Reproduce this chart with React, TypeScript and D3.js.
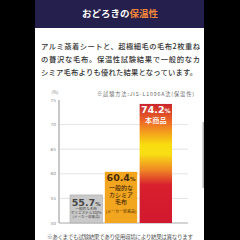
import React from "react";
import * as d3 from "d3";

const categories = ["general", "cashmere", "product"];
const values = [55.7, 60.4, 74.2];
const valueLabels = ["55.7", "60.4", "74.2"];
const yTicks = [50, 55, 60, 65, 70, 75];
const paragraph = [
  "アルミ蒸着シートと、超極細毛の毛布2枚重ね",
  "の贅沢な毛布。保温性試験結果で一般的なカ",
  "シミア毛布よりも優れた結果となっています。",
];
const bar1Sub = ["一般的な毛布", "ポリエステル100%", "(メーカー従来品)"];
const bar2Sub = ["一般的な", "カシミア", "毛布"];
const bar2Note = "(メーカー従来品)";
const bar3Sub = "本商品";
const titleA = "おどろきの";
const titleB = "保温性";
const methodNote = "※試験方法:JIS-L1096A法(保温性)";
const footNote = "※あくまでも試験結果であり使用環境により結果は異なります";

const JP = "'Noto Sans CJK JP', 'Noto Sans', sans-serif";

export default function App() {
  const W = 240, H = 240;
  const y = d3.scaleLinear().domain([50, 75]).range([223, 100]);
  const x = d3.scaleBand<string>().domain(categories).range([70, 172]).paddingInner(0.07);
  const bw = x.bandwidth();
  const cx = (i: number) => (x(categories[i]) as number) + bw / 2;

  return (
    <svg width={W} height={H} style={{ position: "absolute", left: 0, top: 0, display: "block" }}>
      <defs>
        <linearGradient id="hot" x1="0" y1="0" x2="0" y2="1">
          <stop offset="0" stopColor="#c9262e" />
          <stop offset="0.15" stopColor="#ee6a26" />
          <stop offset="0.34" stopColor="#f8dc10" />
          <stop offset="0.42" stopColor="#f8e014" />
          <stop offset="0.55" stopColor="#f08a24" />
          <stop offset="0.68" stopColor="#d8202e" />
          <stop offset="1" stopColor="#d2182e" />
        </linearGradient>
      </defs>
      <rect x={0} y={0} width={W} height={H} fill="#000" />
      <rect x={35} y={0} width={169} height={H} fill="#fff" />
      <rect x={35} y={0} width={169} height={28} fill="#251f4d" />
      <text x={120} y={17} textAnchor="middle" fontFamily={JP} fontSize={9.5} fontWeight={700} fill="#fff">
        <tspan>{titleA}</tspan>
        <tspan fill="#f0863c">{titleB}</tspan>
      </text>
      {paragraph.map((t, i) => (
        <text key={i} x={41} y={49 + i * 13} fontFamily={JP} fontSize={7.3} fontWeight={500} fill="#333"
          textLength={i === 2 ? 156 : 159} lengthAdjust="spacing">{t}</text>
      ))}
      <text x={97} y={95.5} fontFamily={JP} fontSize={5.2} fill="#666" textLength={97} lengthAdjust="spacing">{methodNote}</text>
      <text x={55} y={93.5} textAnchor="middle" fontFamily={JP} fontSize={4.5} fill="#888">(%)</text>
      {yTicks.map((t) => (
        <g key={t}>
          {t > 50 && t < 75 && (
            <line x1={60} x2={188} y1={y(t)} y2={y(t)} stroke="#dcdcdc" strokeWidth={0.8} />
          )}
          <text x={56} y={y(t) + 1.6} textAnchor="end" fontFamily="DejaVu Sans" fontSize={4.3} fill="#888">{t}</text>
        </g>
      ))}
      <line x1={59} x2={59} y1={y(75)} y2={y(50)} stroke="#aaa" strokeWidth={1.3} />
      <line x1={59} x2={188} y1={y(50)} y2={y(50)} stroke="#aaa" strokeWidth={1} />
      {values.map((v, i) => (
        <rect key={i} x={x(categories[i])} y={y(v)} width={bw} height={y(50) - y(v)}
          fill={i === 0 ? "#c9c9c9" : i === 1 ? "#f2a51e" : "url(#hot)"}
          stroke={i === 0 ? "#a8a8a8" : "none"} strokeWidth={0.6} />
      ))}
      {/* bar 1 labels */}
      <text x={cx(0)} y={y(values[0]) + 11} textAnchor="middle" fontFamily="DejaVu Sans" fontWeight={700} fontSize={9.5} fill="#444">
        {valueLabels[0]}<tspan fontSize={5.5}>%</tspan>
      </text>
      {bar1Sub.map((t, i) => (
        <text key={i} x={cx(0)} y={y(values[0]) + 15.5 + i * 3.8} textAnchor="middle" fontFamily={JP} fontSize={3.6} fill="#444">{t}</text>
      ))}
      {/* bar 2 labels */}
      <text x={cx(1)} y={y(values[1]) + 9.5} textAnchor="middle" fontFamily="DejaVu Sans" fontWeight={700} fontSize={9.5} fill="#4a2c08">
        {valueLabels[1]}<tspan fontSize={5.5}>%</tspan>
      </text>
      {bar2Sub.map((t, i) => (
        <text key={i} x={cx(1)} y={y(values[1]) + 18 + i * 7} textAnchor="middle" fontFamily={JP} fontSize={6} fontWeight={500} fill="#4a2c08">{t}</text>
      ))}
      <text x={cx(1)} y={y(values[1]) + 41} textAnchor="middle" fontFamily={JP} fontSize={4} fill="#4a2c08">{bar2Note}</text>
      {/* bar 3 labels */}
      <text x={cx(2)} y={y(values[2]) + 9.5} textAnchor="middle" fontFamily="DejaVu Sans" fontWeight={700} fontSize={9.5} fill="#fff">
        {valueLabels[2]}<tspan fontSize={6}>%</tspan>
      </text>
      <text x={cx(2)} y={y(values[2]) + 19.5} textAnchor="middle" fontFamily={JP} fontSize={7.2} fontWeight={500} fill="#fff">{bar3Sub}</text>
      <text x={47} y={239} fontFamily={JP} fontSize={5.6} fill="#555" textLength={146} lengthAdjust="spacing">{footNote}</text>
      <rect x={202.5} y={122} width={1.5} height={66} fill="#b8b8b8" />
    </svg>
  );
}
